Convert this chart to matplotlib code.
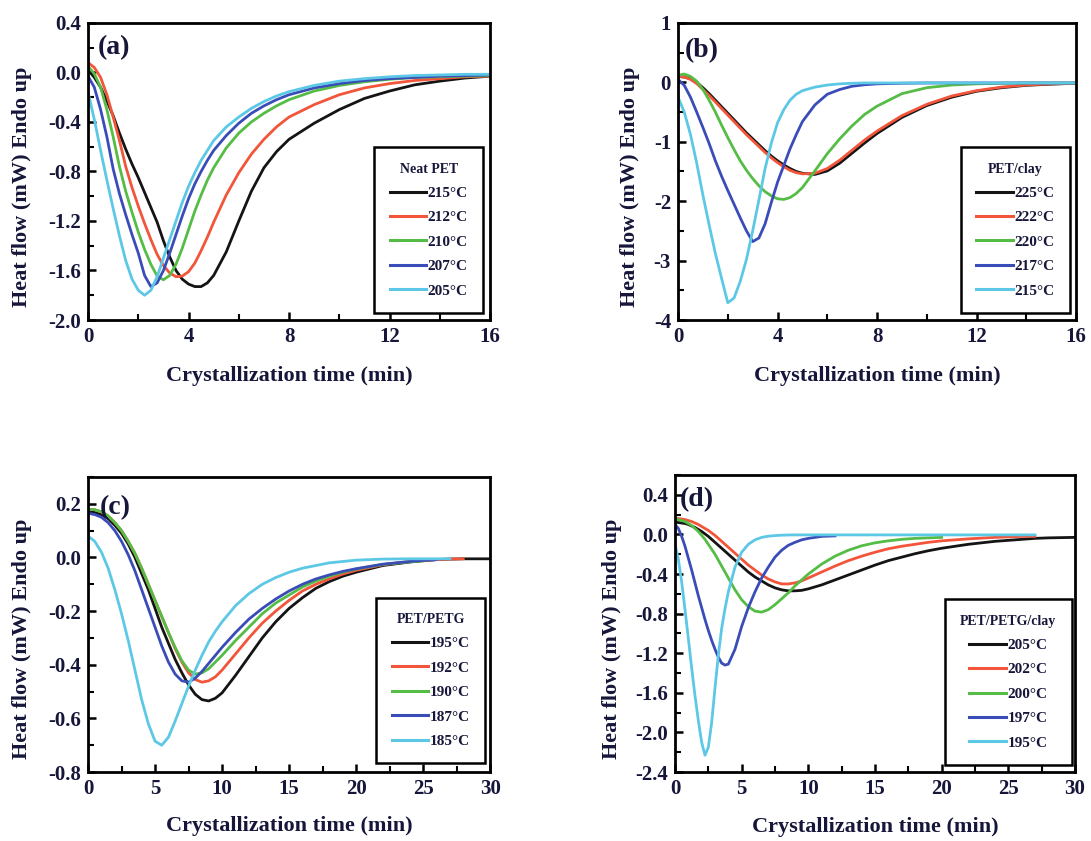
import numpy as np
import matplotlib
matplotlib.use("Agg")
import matplotlib.pyplot as plt
from matplotlib.ticker import MultipleLocator, FormatStrFormatter

plt.rcParams['font.family'] = ['Liberation Serif', 'DejaVu Serif']
plt.rcParams['font.weight'] = 'bold'
plt.rcParams['axes.labelweight'] = 'bold'
plt.rcParams['axes.unicode_minus'] = False

TEXT = '#16163a'
colors = ['#141414', '#f2553a', '#55bd45', '#3a4cb8', '#5cc8e6']

# time grids (min)
t_ab = [0, 0.25, 0.5, 0.75, 1, 1.25, 1.5, 1.75, 2, 2.25, 2.5, 2.75, 3, 3.25, 3.5, 3.75, 4,
        4.25, 4.5, 4.75, 5, 5.5, 6, 6.5, 7, 7.5, 8, 9, 10, 11, 12, 13, 14, 15, 16]
t_c = [0, 0.5, 1, 1.5, 2, 2.5, 3, 3.5, 4, 4.5, 5, 5.5, 6, 6.5, 7, 7.5, 8, 8.5, 9, 9.5, 10,
       11, 12, 13, 14, 15, 16, 17, 18, 19, 20, 22, 24, 25, 26, 27, 28, 30]
t_d = [0, 0.25, 0.5, 0.75, 1, 1.25, 1.5, 1.75, 2, 2.25, 2.5, 2.75, 3, 3.25, 3.5, 3.75, 4,
       4.5, 5, 5.5, 6, 6.5, 7, 7.5, 8, 8.5, 9, 9.5, 10,
       11, 12, 13, 14, 15, 16, 17, 18, 19, 20, 22, 24, 26, 27, 28, 30]

# (a) Neat PET, heat flow (mW)
a_labels = ['215°C', '212°C', '210°C', '207°C', '205°C']
a_215 = [0.02, -0.04, -0.12, -0.23, -0.35, -0.49, -0.62, -0.74, -0.85, -0.97, -1.09, -1.21,
         -1.36, -1.49, -1.60, -1.67, -1.71, -1.73, -1.73, -1.70, -1.64,
         -1.45, -1.20, -0.96, -0.77, -0.64, -0.54,
         -0.41, -0.30, -0.21, -0.15, -0.10, -0.07, -0.045, -0.03]
a_212 = [0.08, 0.04, -0.04, -0.18, -0.36, -0.55, -0.76, -0.93, -1.08, -1.22, -1.35, -1.47,
         -1.56, -1.62, -1.65, -1.645, -1.61, -1.54, -1.44, -1.33, -1.21,
         -0.99, -0.81, -0.66, -0.54, -0.44, -0.36,
         -0.26, -0.18, -0.125, -0.09, -0.065, -0.05, -0.035, -0.03]
a_210 = [0.05, -0.01, -0.12, -0.30, -0.52, -0.76, -0.96, -1.13, -1.29, -1.43, -1.55, -1.645,
         -1.675, -1.64, -1.55, -1.42, -1.27, -1.12, -0.99, -0.87, -0.77,
         -0.61, -0.49, -0.40, -0.33, -0.27, -0.22,
         -0.15, -0.105, -0.075, -0.055, -0.04, -0.035, -0.03, -0.025]
a_207 = [-0.03, -0.12, -0.30, -0.52, -0.78, -0.98, -1.15, -1.31, -1.46, -1.64, -1.73, -1.70,
         -1.60, -1.46, -1.31, -1.16, -1.02, -0.90, -0.80, -0.71, -0.63,
         -0.51, -0.41, -0.33, -0.27, -0.22, -0.18,
         -0.125, -0.09, -0.065, -0.05, -0.04, -0.03, -0.025, -0.02]
a_205 = [-0.16, -0.38, -0.63, -0.87, -1.10, -1.32, -1.52, -1.67, -1.76, -1.80, -1.76, -1.65,
         -1.50, -1.35, -1.20, -1.05, -0.92, -0.81, -0.71, -0.63, -0.55,
         -0.44, -0.36, -0.29, -0.235, -0.19, -0.155,
         -0.105, -0.07, -0.05, -0.035, -0.025, -0.02, -0.015, -0.015]

# (b) PET/clay
b_labels = ['225°C', '222°C', '220°C', '217°C', '215°C']
b_225 = [0.10, 0.09, 0.06, 0.0, -0.09, -0.19, -0.30, -0.41, -0.52, -0.63, -0.74, -0.85,
         -0.95, -1.05, -1.15, -1.24, -1.32, -1.39, -1.45, -1.50, -1.53,
         -1.55, -1.49, -1.36, -1.19, -1.02, -0.86,
         -0.59, -0.39, -0.25, -0.15, -0.09, -0.05, -0.03, -0.015]
b_222 = [0.10, 0.09, 0.05, -0.02, -0.12, -0.22, -0.33, -0.44, -0.55, -0.66, -0.77, -0.88,
         -0.98, -1.08, -1.18, -1.27, -1.35, -1.42, -1.48, -1.52, -1.54,
         -1.53, -1.45, -1.31, -1.14, -0.97, -0.82,
         -0.56, -0.37, -0.23, -0.14, -0.08, -0.045, -0.025, -0.015]
b_220 = [0.12, 0.14, 0.10, 0.02, -0.12, -0.30, -0.50, -0.72, -0.93, -1.13, -1.32, -1.48,
         -1.62, -1.74, -1.84, -1.91, -1.96, -1.97, -1.94, -1.87, -1.77,
         -1.49, -1.20, -0.95, -0.73, -0.54, -0.40,
         -0.19, -0.09, -0.045, -0.025, -0.015, -0.01, -0.01, -0.01]
b_217 = [0.05, -0.05, -0.25, -0.50, -0.76, -1.03, -1.32, -1.58, -1.82, -2.05, -2.28, -2.50,
         -2.68, -2.62, -2.38, -2.02, -1.68, -1.40, -1.12, -0.88, -0.66,
         -0.38, -0.20, -0.12, -0.065, -0.04, -0.025,
         -0.015, -0.01, -0.01, -0.01, -0.01, -0.01, -0.01, -0.01]
b_215 = [-0.25, -0.50, -0.88, -1.36, -1.90, -2.40, -2.88, -3.30, -3.71, -3.63, -3.35, -2.98,
         -2.50, -1.98, -1.45, -1.02, -0.68, -0.46, -0.30, -0.20, -0.14,
         -0.08, -0.045, -0.025, -0.015, -0.01, -0.01,
         -0.01, -0.01, -0.01, -0.01, -0.01, -0.01, -0.01, -0.01]

# (c) PET/PETG, runs end at different times
c_labels = ['195°C', '192°C', '190°C', '187°C', '185°C']
c_195 = [0.17, 0.168, 0.16, 0.145, 0.12, 0.09, 0.05, 0.0, -0.06, -0.12, -0.19, -0.26,
         -0.32, -0.38, -0.43, -0.475, -0.51, -0.53, -0.535, -0.525, -0.505,
         -0.44, -0.37, -0.30, -0.24, -0.19, -0.15, -0.115, -0.09, -0.07, -0.055,
         -0.03, -0.017, -0.012, -0.008, -0.006, -0.005, -0.005]
c_192 = [0.18, 0.178, 0.17, 0.155, 0.13, 0.10, 0.06, 0.015, -0.04, -0.10, -0.16, -0.22,
         -0.28, -0.34, -0.39, -0.43, -0.455, -0.465, -0.46, -0.445, -0.42,
         -0.36, -0.30, -0.245, -0.20, -0.16, -0.125, -0.10, -0.08, -0.062, -0.048,
         -0.027, -0.015, -0.011, -0.008, -0.006, -0.005]
c_190 = [0.18, 0.178, 0.17, 0.155, 0.13, 0.10, 0.06, 0.015, -0.04, -0.10, -0.16, -0.22,
         -0.28, -0.335, -0.385, -0.42, -0.435, -0.43, -0.415, -0.39, -0.365,
         -0.31, -0.26, -0.21, -0.17, -0.14, -0.11, -0.088, -0.07, -0.055, -0.043,
         -0.026, -0.016, -0.013]
c_187 = [0.165, 0.16, 0.15, 0.13, 0.10, 0.06, 0.01, -0.05, -0.12, -0.19, -0.26, -0.33,
         -0.39, -0.435, -0.46, -0.465, -0.45, -0.425, -0.395, -0.365, -0.335,
         -0.28, -0.23, -0.19, -0.155, -0.125, -0.10, -0.08, -0.065, -0.052, -0.042,
         -0.025, -0.015, -0.011, -0.008]
c_185 = [0.08, 0.06, 0.02, -0.04, -0.12, -0.21, -0.31, -0.42, -0.53, -0.62, -0.685, -0.70,
         -0.67, -0.61, -0.545, -0.48, -0.42, -0.365, -0.315, -0.275, -0.24,
         -0.18, -0.135, -0.10, -0.075, -0.055, -0.04, -0.03, -0.02, -0.015, -0.01,
         -0.006, -0.005, -0.005, -0.005, -0.005]

# (d) PET/PETG/clay
d_labels = ['205°C', '202°C', '200°C', '197°C', '195°C']
d_205 = [0.12, 0.12, 0.115, 0.11, 0.10, 0.085, 0.07, 0.05, 0.03, 0.005, -0.02, -0.05,
         -0.08, -0.11, -0.14, -0.17, -0.20,
         -0.26, -0.32, -0.38, -0.43, -0.47, -0.51, -0.54, -0.56, -0.57, -0.57, -0.565, -0.55,
         -0.51, -0.46, -0.41, -0.36, -0.31, -0.265, -0.23, -0.195, -0.165, -0.14,
         -0.10, -0.07, -0.05, -0.04, -0.035, -0.03]
d_202 = [0.16, 0.16, 0.155, 0.15, 0.14, 0.13, 0.115, 0.10, 0.08, 0.06, 0.04, 0.015,
         -0.01, -0.04, -0.07, -0.10, -0.13,
         -0.19, -0.25, -0.31, -0.36, -0.41, -0.45, -0.48, -0.50, -0.50, -0.49, -0.47, -0.44,
         -0.38, -0.32, -0.265, -0.22, -0.18, -0.145, -0.12, -0.10, -0.08, -0.065,
         -0.045, -0.03, -0.02, -0.02]
d_200 = [0.15, 0.15, 0.14, 0.13, 0.11, 0.09, 0.06, 0.03, -0.01, -0.05, -0.10, -0.15,
         -0.20, -0.26, -0.32, -0.38, -0.44,
         -0.56, -0.66, -0.73, -0.775, -0.785, -0.76, -0.71, -0.65, -0.59, -0.52, -0.46, -0.40,
         -0.30, -0.22, -0.16, -0.115, -0.085, -0.065, -0.05, -0.04, -0.035, -0.03]
d_197 = [0.10, 0.06, -0.02, -0.12, -0.24, -0.36, -0.49, -0.62, -0.74, -0.86, -0.97, -1.07,
         -1.16, -1.24, -1.30, -1.32, -1.31,
         -1.16, -0.93, -0.74, -0.58, -0.44, -0.33, -0.23, -0.16, -0.11, -0.08, -0.055, -0.04,
         -0.02, -0.015]
d_195 = [-0.10, -0.25, -0.48, -0.76, -1.05, -1.35, -1.63, -1.88, -2.10, -2.23, -2.15, -1.90,
         -1.55, -1.22, -0.95, -0.75, -0.58,
         -0.33, -0.18, -0.10, -0.055, -0.03, -0.018, -0.012, -0.008, -0.006, -0.005, -0.005, -0.005,
         -0.005, -0.005, -0.005, -0.005, -0.005, -0.005, -0.005, -0.005, -0.005, -0.005,
         -0.005, -0.005, -0.005, -0.005]


def draw_panel(ax, t, curves, labels, title, tag, tag_xy, xlim, ylim, xstep, ystep,
               yfmt, leg_anchor, ylab_x, xlab_y):
    for v, lab, c in zip(curves, labels, colors):
        ax.plot(t[:len(v)], v, color=c, lw=2.0, label=lab)
    ax.set_xlim(*xlim)
    ax.set_ylim(*ylim)
    ax.xaxis.set_major_locator(MultipleLocator(xstep))
    ax.xaxis.set_minor_locator(MultipleLocator(xstep / 2))
    ax.yaxis.set_major_locator(MultipleLocator(ystep))
    ax.yaxis.set_minor_locator(MultipleLocator(ystep / 2))
    ax.yaxis.set_major_formatter(FormatStrFormatter(yfmt))
    ax.tick_params(which='both', direction='in', top=False, right=False,
                   labelsize=15, labelcolor=TEXT)
    ax.tick_params(which='major', length=6, width=1.8, pad=5)
    ax.tick_params(which='minor', length=4, width=1.5)
    for s in ax.spines.values():
        s.set_linewidth(2.0)

    ax.set_xlabel('Crystallization time (min)', fontsize=16, fontweight='bold', color=TEXT)
    ax.xaxis.set_label_coords(0.5, xlab_y)
    ax.set_ylabel('Heat flow (mW) Endo up', fontsize=16, fontweight='bold', color=TEXT)
    ax.yaxis.set_label_coords(ylab_x, 0.45)

    ax.text(tag_xy[0], tag_xy[1], tag, transform=ax.transAxes, fontsize=20,
            fontweight='bold', color=TEXT, ha='left', va='center')

    leg = ax.legend(title=title, loc='lower right', bbox_to_anchor=leg_anchor,
                    borderaxespad=0, fontsize=11, title_fontsize=10,
                    handlelength=2.4, handletextpad=0.1, labelspacing=0.7,
                    borderpad=1.0, fancybox=False, framealpha=1, edgecolor='black')
    leg.get_frame().set_linewidth(1.8)
    for txt in leg.get_texts():
        txt.set_color(TEXT)
    leg.get_title().set_color(TEXT)
    for h in leg.legend_handles:
        h.set_linewidth(2.2)


fig = plt.figure(figsize=(10.91, 8.41), dpi=100)
ax_a = fig.add_axes([0.0807, 0.6195, 0.3685, 0.3532])
ax_b = fig.add_axes([0.6215, 0.6195, 0.3648, 0.3532])
ax_c = fig.add_axes([0.0807, 0.0820, 0.3685, 0.3508])
ax_d = fig.add_axes([0.6187, 0.0820, 0.3666, 0.3532])

draw_panel(ax_a, t_ab, [a_215, a_212, a_210, a_207, a_205], a_labels, 'Neat PET', '(a)',
           (0.025, 0.916), (0, 16), (-2.0, 0.4), 4, 0.4, '%.1f', (0.983, 0.024), -0.139, -0.155)
draw_panel(ax_b, t_ab, [b_225, b_222, b_220, b_217, b_215], b_labels, 'PET/clay', '(b)',
           (0.018, 0.906), (0, 16), (-4, 1), 4, 1, '%d', (0.985, 0.024), -0.095, -0.155)
draw_panel(ax_c, t_c, [c_195, c_192, c_190, c_187, c_185], c_labels, 'PET/PETG', '(c)',
           (0.03, 0.897), (0, 30), (-0.8, 0.3), 5, 0.2, '%.1f', (0.988, 0.03), -0.139, -0.15)
draw_panel(ax_d, t_d, [d_205, d_202, d_200, d_197, d_195], d_labels, 'PET/PETG/clay', '(d)',
           (0.0125, 0.916), (0, 30), (-2.4, 0.6), 5, 0.4, '%.1f', (0.992, 0.024), -0.1325, -0.15)

fig.savefig('out.png', dpi=100)
